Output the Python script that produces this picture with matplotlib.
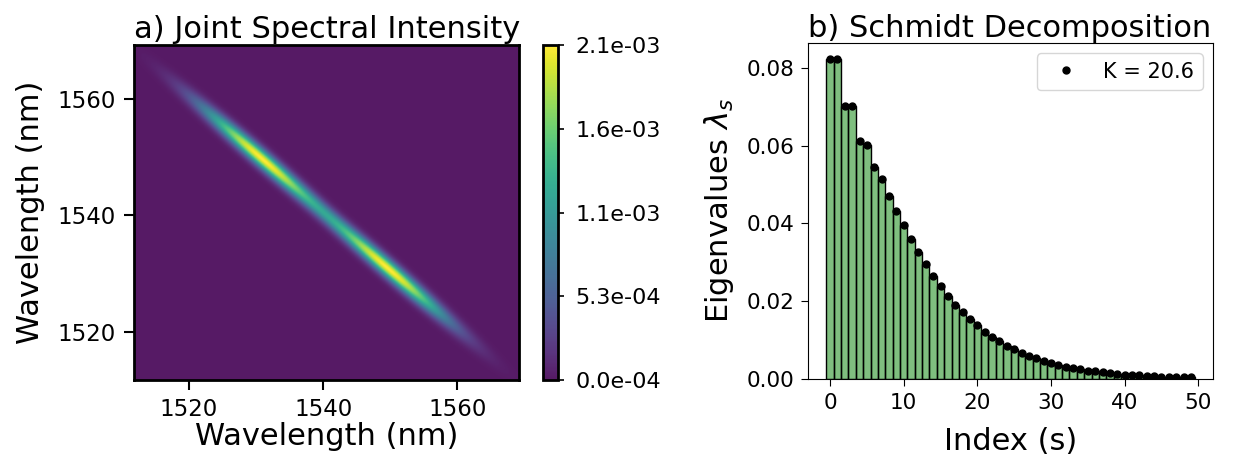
import numpy as np
import matplotlib
matplotlib.use("Agg")
import matplotlib.pyplot as plt
from matplotlib.colors import ListedColormap

# ---------- Daten ----------
# JSI-Modell: schmaler Grat entlang der Antidiagonale, zwei Maxima
lam_min, lam_max = 1511.8, 1569.2
lam_c = 1540.3          # Zentrum
peak_off = 9.5          # Abstand der Maxima vom Zentrum (nm)
peak_w = 6.0            # Breite der Maxima entlang des Grats (nm)
perp_w = 1.2            # Breite quer zum Grat (nm)
jsi_max = 2.12e-3
cb_ticks = [0.0, 5.3e-4, 1.06e-3, 1.59e-3, 2.12e-3]
cb_labels = ["0.0e-04", "5.3e-04", "1.1e-03", "1.6e-03", "2.1e-03"]

# Schmidt-Eigenwerte
eig = [0.0823, 0.0823, 0.0703, 0.0703, 0.0611, 0.0601, 0.0544, 0.0514, 0.0471, 0.0433,
       0.0397, 0.0361, 0.0327, 0.0296, 0.0266, 0.0240, 0.0214, 0.0191, 0.0171, 0.0154,
       0.0138, 0.0122, 0.0109, 0.0097, 0.0086, 0.0077, 0.0068, 0.0059, 0.0053, 0.0047,
       0.0041, 0.0035, 0.0032, 0.0028, 0.0025, 0.0021, 0.0020, 0.0017, 0.0015, 0.0014,
       0.0011, 0.0010, 0.0009, 0.0008, 0.0007, 0.0006, 0.0006, 0.0005, 0.0004, 0.0004]
K = 20.6

# ---------- JSI berechnen ----------
lam = np.linspace(lam_min, lam_max, 500)
X, Y = np.meshgrid(lam, lam)
d = (X - Y) / 2
v = X + Y - 2 * lam_c
along = np.exp(-(d - peak_off)**2 / (2*peak_w**2)) + np.exp(-(d + peak_off)**2 / (2*peak_w**2))
jsi = along * np.exp(-v**2 / (2*perp_w**2))
jsi = jsi / jsi.max() * jsi_max

# viridis leicht aufgehellt (wie alpha=0.9 auf weiß)
vir = plt.get_cmap("viridis")(np.linspace(0, 1, 256))[:, :3]
cmap = ListedColormap(0.9 * vir + 0.1)

fig = plt.figure(figsize=(12.33, 4.68), dpi=100)
ax1 = fig.add_axes([0.1087, 0.1880, 0.3122, 0.7158])
cax = fig.add_axes([0.4404, 0.1880, 0.0125, 0.7158])
ax2 = fig.add_axes([0.6553, 0.1902, 0.3285, 0.7180])

im = ax1.imshow(jsi, origin="lower", extent=[lam_min, lam_max, lam_min, lam_max],
                cmap=cmap, vmin=0, vmax=jsi_max, aspect="auto", interpolation="bilinear")
ax1.set_xticks([1520, 1540, 1560]); ax1.set_yticks([1520, 1540, 1560])
ax1.set_xlabel("Wavelength (nm)", fontsize=22, labelpad=1)
ax1.set_ylabel("Wavelength (nm)", fontsize=22, labelpad=9)
ax1.set_title("a) Joint Spectral Intensity", fontsize=22, loc="left", pad=5)
for s in ax1.spines.values(): s.set_linewidth(2)
ax1.tick_params(labelsize=16.5, length=7, width=1.5, pad=6)

cb = fig.colorbar(im, cax=cax, ticks=cb_ticks)
cb.ax.set_yticklabels(cb_labels)
cb.ax.tick_params(labelsize=16, length=4, width=1.2, pad=8)
cb.outline.set_linewidth(2)

idx = np.arange(len(eig))
ax2.bar(idx, eig, width=1.0, color=(0, 0.5, 0, 0.5), edgecolor="black", linewidth=1.0)
ax2.plot(idx, eig, "o", color="black", markersize=5, label=f"K = {K}")
ax2.set_xlabel("Index (s)", fontsize=22, labelpad=10)
ax2.set_ylabel(r"Eigenvalues $\lambda_s$", fontsize=22, labelpad=7)
ax2.set_title("b) Schmidt Decomposition", fontsize=22, loc="left", pad=4)
ax2.set_yticks([0.0, 0.02, 0.04, 0.06, 0.08])
ax2.tick_params(labelsize=15.5, length=5, pad=5)
ax2.legend(fontsize=15, loc="upper right")

fig.savefig("out.png", dpi=100)
